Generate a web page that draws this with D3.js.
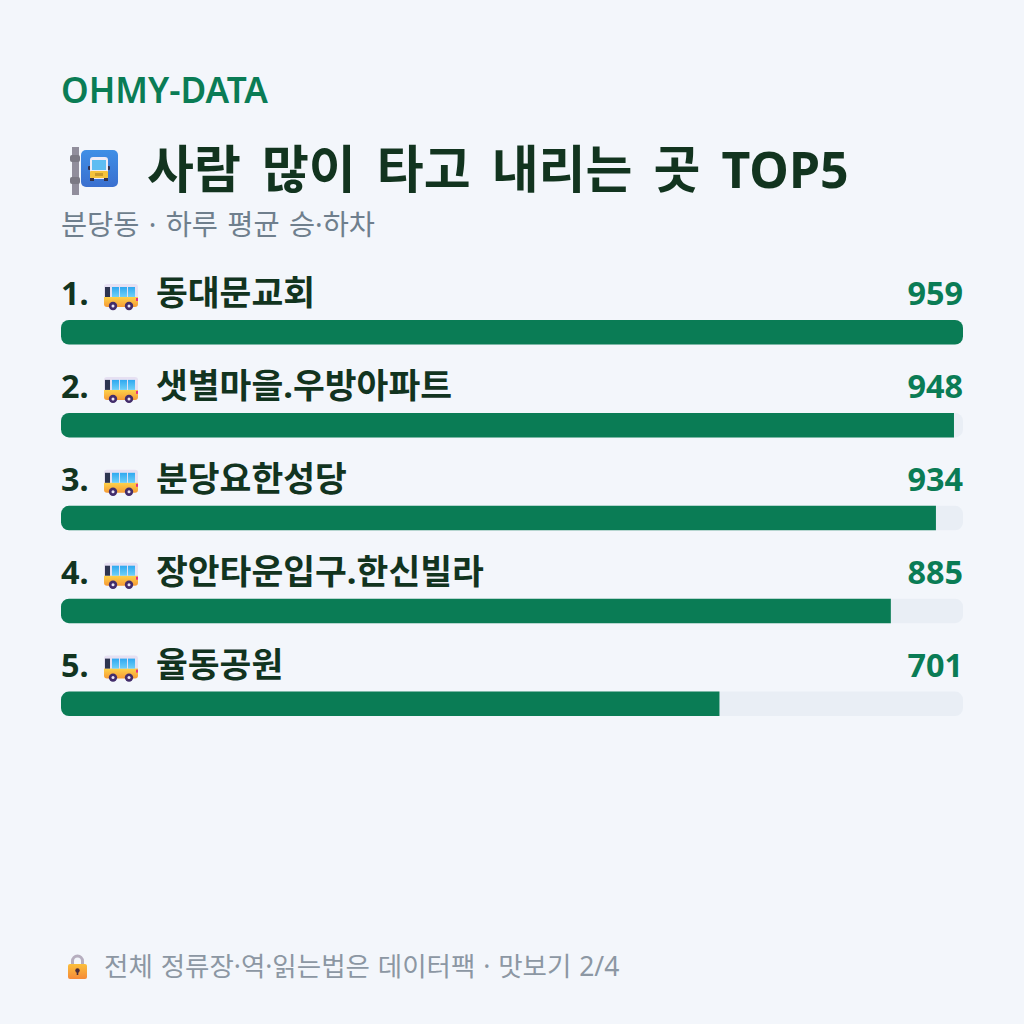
<!DOCTYPE html>
<html lang="ko"><head><meta charset="utf-8">
<script src="https://cdn.jsdelivr.net/npm/d3@7"></script>
<style>
html,body{margin:0;padding:0;background:#f3f6fb}
svg{display:block}
text{font-family:"Noto Sans","Noto Sans CJK KR",sans-serif}
</style></head><body><svg id="chart" width="1024" height="1024"></svg>
<script>
// Daily boarding and alighting counts at the five busiest stops
const ranks = [1, 2, 3, 4, 5];
const stops = ["동대문교회", "샛별마을.우방아파트", "분당요한성당", "장안타운입구.한신빌라", "율동공원"];
const riders = [959, 948, 934, 885, 701];

const brand = "OHMY-DATA";
const title = "사람 많이 타고 내리는 곳 ";
const titleTail = "TOP5";
const subtitle = "분당동 · 하루 평균 승·하차";
const footer = "전체 정류장·역·읽는법은 데이터팩 · 맛보기 2/4";

const GREEN = "#0a7c55", DARK = "#12341f", GREY = "#6f7f8d", FOOT = "#8c97a3", TRACK = "#e9eef5";
const rows = stops.map((name, i) => ({rank: ranks[i], name, value: riders[i]}));
const maxRiders = d3.max(riders);

const svg = d3.select("#chart");
const x = d3.scaleLinear().domain([0, 100]).range([61, 963]);
const y = d3.scaleBand().domain(ranks).range([270, 734.5]).paddingInner(0);

// Gradients for the small icons
const defs = svg.append("defs");
function vGrad(id, top, bottom) {
  const g = defs.append("linearGradient").attr("id", id).attr("x1", 0).attr("x2", 0).attr("y1", 0).attr("y2", 1);
  g.append("stop").attr("offset", 0).attr("stop-color", top);
  g.append("stop").attr("offset", 1).attr("stop-color", bottom);
}
vGrad("busBody", "#fdd24a", "#f79a35");
vGrad("glass", "#2fa8f0", "#6fd0f7");
vGrad("plate", "#3f8fe6", "#3a6fcf");
vGrad("lockBody", "#fbbf3c", "#f58a38");

svg.append("text").attr("x", 61).attr("y", 103).attr("font-size", 35.2).attr("font-weight", 600)
  .attr("fill", GREEN).text(brand);
const titleText = svg.append("text").attr("x", 147).attr("y", 188).attr("font-size", 51).attr("font-weight", 700)
  .attr("fill", DARK).attr("word-spacing", 7.8);
titleText.append("tspan").text(title);
titleText.append("tspan").attr("font-size", 50).text(titleTail);
svg.append("text").attr("x", 61).attr("y", 235).attr("font-size", 28.4).attr("word-spacing", 2)
  .attr("fill", GREY).text(subtitle);

// Bus stop sign: pole, blue plate, front view of a bus
function stopSign(g) {
  const box = (px, py, w, h, fill, rx = 0) =>
    g.append("rect").attr("x", px).attr("y", py).attr("width", w).attr("height", h).attr("rx", rx).attr("fill", fill);
  box(72, 147, 7, 48, "#918e9c");
  box(70, 155, 10, 7, "#7b7984", 2);
  box(70, 177, 10, 7, "#7b7984", 2);
  box(81, 150, 37, 37, "url(#plate)", 5);
  box(88, 166, 22, 4, "#33304a", 1);
  box(90, 157, 18, 22, "#f0ecf6", 3);
  box(92, 160, 14, 10, "#5fbdf2");
  box(90, 171, 18, 7, "#f5c33b", 1);
  box(95, 173, 8, 3, "#c89a2c");
  box(90, 178, 4, 3, "#33304a");
  box(104, 178, 4, 3, "#33304a");
}
stopSign(svg.append("g"));

// Side view of a bus, drawn at the start of each row label
function bus(g) {
  g.append("rect").attr("x", 0).attr("y", 0).attr("width", 34).attr("height", 22).attr("rx", 3).attr("fill", "#e6e0f2");
  g.append("path").attr("d", "M0 13H34V20a3 3 0 0 1-3 3H3a3 3 0 0 1-3-3Z").attr("fill", "url(#busBody)");
  g.append("rect").attr("x", 1).attr("y", 3).attr("width", 5).attr("height", 10).attr("fill", "#2d3550");
  [8, 16, 24].forEach(wx => g.append("rect").attr("x", wx).attr("y", 3).attr("width", 7).attr("height", 10).attr("fill", "url(#glass)"));
  g.append("rect").attr("x", 32).attr("y", 14).attr("width", 2).attr("height", 3).attr("fill", "#e8327c");
  [9, 25].forEach(cx => {
    g.append("circle").attr("cx", cx).attr("cy", 22).attr("r", 4.2).attr("fill", "#432d6b");
    g.append("circle").attr("cx", cx).attr("cy", 22).attr("r", 1.5).attr("fill", "#ece6f4");
  });
}

const row = svg.selectAll("g.row").data(rows).join("g").attr("class", "row")
  .attr("transform", d => `translate(0,${y(d.rank)})`);

row.append("text").attr("x", 61).attr("y", 35).attr("font-size", 32.4).attr("font-weight", 700)
  .attr("fill", DARK).text(d => `${d.rank}.`);
row.append("g").attr("transform", "translate(104,14)").each(function () { bus(d3.select(this)); });
row.append("text").attr("x", 156).attr("y", 35).attr("font-size", 34.6).attr("font-weight", 700)
  .attr("fill", DARK).text(d => d.name);
row.append("text").attr("x", 963).attr("y", 35).attr("text-anchor", "end").attr("font-size", 32.4).attr("font-weight", 700)
  .attr("fill", GREEN).text(d => d.value);

// Track plus a fill sized to the whole-number share of the busiest stop
row.append("rect").attr("x", x(0)).attr("y", 50).attr("width", x(100) - x(0)).attr("height", 24.5).attr("rx", 8).attr("fill", TRACK);
row.append("path").attr("fill", GREEN).attr("d", d => {
  const w = x(Math.round(d.value / maxRiders * 100)) - x(0), h = 24.5, r = 8;
  const right = d.value === maxRiders
    ? `H${x(0) + w - r}a${r} ${r} 0 0 1 ${r} ${r}V${50 + h - r}a${r} ${r} 0 0 1 ${-r} ${r}`
    : `H${x(0) + w}V${50 + h}`;
  return `M${x(0) + r} 50${right}H${x(0) + r}a${r} ${r} 0 0 1 ${-r} ${-r}V${50 + r}a${r} ${r} 0 0 1 ${r} ${-r}Z`;
});

// Padlock in front of the footer note
const lock = svg.append("g");
lock.append("path").attr("d", "M72.5 965v-4a5 5 0 0 1 10 0v4").attr("fill", "none").attr("stroke", "#b6aebf").attr("stroke-width", 3);
lock.append("rect").attr("x", 68).attr("y", 964).attr("width", 19).attr("height", 15).attr("rx", 2).attr("fill", "url(#lockBody)");
lock.append("circle").attr("cx", 77.5).attr("cy", 970.5).attr("r", 2.2).attr("fill", "#4a2c3a");
lock.append("rect").attr("x", 76.7).attr("y", 971).attr("width", 1.6).attr("height", 4).attr("fill", "#4a2c3a");

svg.append("text").attr("x", 104).attr("y", 976).attr("font-size", 26.5).attr("word-spacing", 1).attr("fill", FOOT).text(footer);
</script></body></html>
